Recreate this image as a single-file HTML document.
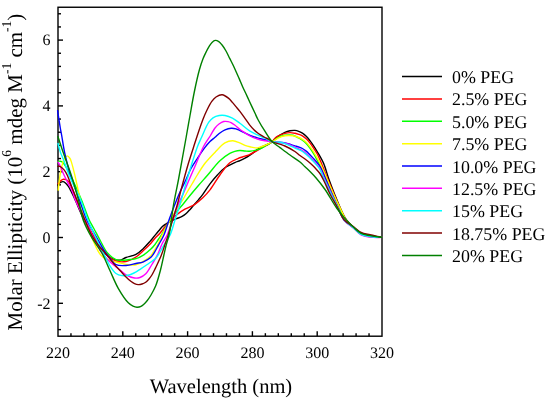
<!DOCTYPE html>
<html><head><meta charset="utf-8"><style>
html,body{margin:0;padding:0;background:#fff;}
svg{display:block;will-change:transform;}
text{font-family:"Liberation Serif",serif;fill:#000;text-rendering:geometricPrecision;}
</style></head><body>
<svg width="550" height="403" viewBox="0 0 550 403">
<rect width="550" height="403" fill="#fff"/>
<g stroke="#000" stroke-width="1.4">
<line x1="70.96" y1="336.20" x2="70.96" y2="333.20"/>
<line x1="83.92" y1="336.20" x2="83.92" y2="333.20"/>
<line x1="96.88" y1="336.20" x2="96.88" y2="333.20"/>
<line x1="109.84" y1="336.20" x2="109.84" y2="333.20"/>
<line x1="122.80" y1="336.20" x2="122.80" y2="331.20"/>
<line x1="135.76" y1="336.20" x2="135.76" y2="333.20"/>
<line x1="148.72" y1="336.20" x2="148.72" y2="333.20"/>
<line x1="161.68" y1="336.20" x2="161.68" y2="333.20"/>
<line x1="174.64" y1="336.20" x2="174.64" y2="333.20"/>
<line x1="187.60" y1="336.20" x2="187.60" y2="331.20"/>
<line x1="200.56" y1="336.20" x2="200.56" y2="333.20"/>
<line x1="213.52" y1="336.20" x2="213.52" y2="333.20"/>
<line x1="226.48" y1="336.20" x2="226.48" y2="333.20"/>
<line x1="239.44" y1="336.20" x2="239.44" y2="333.20"/>
<line x1="252.40" y1="336.20" x2="252.40" y2="331.20"/>
<line x1="265.36" y1="336.20" x2="265.36" y2="333.20"/>
<line x1="278.32" y1="336.20" x2="278.32" y2="333.20"/>
<line x1="291.28" y1="336.20" x2="291.28" y2="333.20"/>
<line x1="304.24" y1="336.20" x2="304.24" y2="333.20"/>
<line x1="317.20" y1="336.20" x2="317.20" y2="331.20"/>
<line x1="330.16" y1="336.20" x2="330.16" y2="333.20"/>
<line x1="343.12" y1="336.20" x2="343.12" y2="333.20"/>
<line x1="356.08" y1="336.20" x2="356.08" y2="333.20"/>
<line x1="369.04" y1="336.20" x2="369.04" y2="333.20"/>
<line x1="58.00" y1="329.62" x2="61.00" y2="329.62"/>
<line x1="58.00" y1="316.46" x2="61.00" y2="316.46"/>
<line x1="58.00" y1="303.30" x2="63.00" y2="303.30"/>
<line x1="58.00" y1="290.14" x2="61.00" y2="290.14"/>
<line x1="58.00" y1="276.98" x2="61.00" y2="276.98"/>
<line x1="58.00" y1="263.82" x2="61.00" y2="263.82"/>
<line x1="58.00" y1="250.66" x2="61.00" y2="250.66"/>
<line x1="58.00" y1="237.50" x2="63.00" y2="237.50"/>
<line x1="58.00" y1="224.34" x2="61.00" y2="224.34"/>
<line x1="58.00" y1="211.18" x2="61.00" y2="211.18"/>
<line x1="58.00" y1="198.02" x2="61.00" y2="198.02"/>
<line x1="58.00" y1="184.86" x2="61.00" y2="184.86"/>
<line x1="58.00" y1="171.70" x2="63.00" y2="171.70"/>
<line x1="58.00" y1="158.54" x2="61.00" y2="158.54"/>
<line x1="58.00" y1="145.38" x2="61.00" y2="145.38"/>
<line x1="58.00" y1="132.22" x2="61.00" y2="132.22"/>
<line x1="58.00" y1="119.06" x2="61.00" y2="119.06"/>
<line x1="58.00" y1="105.90" x2="63.00" y2="105.90"/>
<line x1="58.00" y1="92.74" x2="61.00" y2="92.74"/>
<line x1="58.00" y1="79.58" x2="61.00" y2="79.58"/>
<line x1="58.00" y1="66.42" x2="61.00" y2="66.42"/>
<line x1="58.00" y1="53.26" x2="61.00" y2="53.26"/>
<line x1="58.00" y1="40.10" x2="63.00" y2="40.10"/>
<line x1="58.00" y1="26.94" x2="61.00" y2="26.94"/>
<line x1="58.00" y1="13.78" x2="61.00" y2="13.78"/>
</g>
<rect x="58.00" y="7.25" width="324.00" height="328.95" fill="none" stroke="#000" stroke-width="1.4"/>
<g fill="none" stroke-width="1.4" stroke-linejoin="round" stroke-linecap="round">
<path d="M58.00,184.90 C58.00,184.90 59.57,182.95 60.50,182.40 C61.33,181.91 62.32,181.47 63.20,181.60 C64.16,181.74 65.16,182.64 66.00,183.40 C66.90,184.22 67.64,185.26 68.40,186.40 C69.28,187.72 70.13,189.42 70.90,190.90 C71.62,192.29 72.22,193.56 72.90,195.00 C73.65,196.58 74.20,197.77 75.20,200.00 C77.20,204.44 81.12,214.10 84.00,220.00 C86.37,224.85 88.52,228.70 91.00,233.00 C93.52,237.37 96.06,242.07 99.00,246.00 C101.76,249.69 104.85,253.62 108.00,256.00 C110.57,257.93 113.74,259.29 116.00,259.90 C117.52,260.31 118.57,260.45 120.00,260.20 C121.84,259.88 123.72,258.36 126.00,257.50 C128.88,256.41 133.05,255.98 136.00,254.40 C138.81,252.90 141.07,250.56 143.40,248.40 C145.74,246.23 148.25,243.37 150.00,241.40 C151.22,240.02 151.99,239.03 153.00,237.80 C154.05,236.53 155.14,235.18 156.20,233.90 C157.24,232.65 158.26,231.42 159.30,230.20 C160.33,228.99 161.31,227.63 162.40,226.60 C163.39,225.66 164.51,224.90 165.50,224.20 C166.36,223.59 167.13,223.13 168.00,222.60 C168.93,222.03 169.74,221.46 170.90,220.90 C172.50,220.13 174.89,219.37 176.80,218.60 C178.62,217.87 180.49,217.29 182.10,216.40 C183.60,215.57 184.97,214.55 186.20,213.50 C187.36,212.51 188.28,211.40 189.30,210.30 C190.35,209.17 191.37,207.98 192.40,206.80 C193.44,205.61 194.47,204.40 195.50,203.20 C196.53,202.00 197.50,200.92 198.60,199.60 C199.91,198.03 201.26,196.47 202.80,194.40 C204.93,191.54 207.50,187.20 210.00,183.90 C212.38,180.75 214.85,177.74 217.40,175.00 C219.82,172.40 222.07,169.84 224.90,167.80 C227.84,165.68 231.99,163.87 234.80,162.60 C236.78,161.70 238.30,161.33 240.00,160.60 C241.70,159.87 243.36,159.09 245.00,158.20 C246.67,157.29 248.01,156.47 249.90,155.20 C252.68,153.34 256.29,150.09 259.90,147.90 C263.72,145.59 269.77,143.71 272.30,141.80 C273.67,140.77 273.72,139.89 275.00,138.80 C277.19,136.93 282.06,133.73 284.90,132.40 C286.81,131.50 288.30,131.13 290.00,130.80 C291.63,130.48 293.38,130.28 294.90,130.40 C296.26,130.50 297.47,130.85 298.70,131.30 C299.97,131.77 301.20,132.43 302.40,133.20 C303.70,134.04 305.00,135.03 306.20,136.20 C307.51,137.47 308.70,139.05 309.90,140.60 C311.17,142.24 312.40,143.98 313.60,145.80 C314.87,147.71 315.94,149.45 317.30,151.80 C319.16,155.01 321.76,159.16 323.60,163.40 C325.66,168.13 326.97,173.87 328.80,179.00 C330.61,184.07 332.55,189.10 334.50,194.00 C336.39,198.76 338.24,203.55 340.30,208.00 C342.25,212.20 344.08,216.64 346.50,220.00 C348.60,222.92 351.13,225.06 353.60,227.30 C356.00,229.48 358.34,231.91 361.10,233.30 C363.79,234.65 367.08,235.00 369.90,235.60 C372.46,236.14 375.14,236.50 377.30,236.80 C378.98,237.03 381.80,237.30 381.80,237.30" stroke="#000000"/>
<path d="M58.00,183.80 C58.00,183.80 60.13,181.16 61.20,180.40 C62.00,179.82 62.79,179.40 63.60,179.30 C64.36,179.20 65.15,179.41 65.90,179.70 C66.72,180.01 67.62,180.52 68.30,181.20 C69.05,181.95 69.53,183.00 70.10,184.10 C70.78,185.41 71.38,187.11 72.00,188.60 C72.61,190.07 73.18,191.35 73.80,193.00 C74.57,195.05 75.07,197.10 76.20,200.00 C78.14,204.99 82.02,214.11 84.90,220.00 C87.28,224.86 89.50,228.70 92.00,233.00 C94.53,237.37 97.21,242.03 100.00,246.00 C102.56,249.64 105.10,253.42 108.00,256.00 C110.49,258.22 113.05,260.07 116.00,261.00 C119.04,261.95 122.74,262.12 126.00,261.50 C129.41,260.86 133.04,258.89 136.00,257.00 C138.80,255.21 140.96,252.85 143.40,250.60 C145.93,248.26 148.82,245.46 150.90,243.20 C152.52,241.44 153.55,239.90 155.00,238.30 C156.48,236.66 158.13,235.28 159.70,233.50 C161.47,231.49 163.25,228.96 165.00,226.80 C166.68,224.73 168.13,222.75 170.00,220.80 C172.03,218.68 174.36,216.51 176.80,214.60 C179.31,212.63 182.01,210.87 184.90,209.20 C187.98,207.42 191.77,206.24 194.80,204.30 C197.72,202.42 200.29,200.17 202.80,197.80 C205.36,195.38 207.53,193.06 210.00,189.90 C213.19,185.81 216.49,179.64 219.90,175.00 C223.10,170.65 226.38,165.60 229.80,162.80 C232.40,160.67 235.16,159.72 237.80,158.60 C240.22,157.57 242.84,156.96 245.00,156.20 C246.80,155.57 248.02,155.26 249.90,154.40 C252.69,153.13 256.40,150.87 259.90,148.90 C263.82,146.70 270.20,143.73 272.30,141.80 C273.23,140.95 273.21,140.28 273.90,139.50 C274.80,138.49 275.92,137.32 277.40,136.40 C279.35,135.20 282.61,134.03 284.90,133.40 C286.73,132.90 288.31,132.61 290.00,132.60 C291.67,132.59 293.47,132.99 295.00,133.30 C296.34,133.57 297.48,133.89 298.70,134.30 C299.95,134.72 301.21,135.11 302.40,135.80 C303.71,136.56 304.99,137.66 306.20,138.80 C307.50,140.01 308.71,141.41 309.90,142.90 C311.18,144.50 312.39,146.29 313.60,148.10 C314.86,149.99 316.11,151.75 317.30,154.00 C318.76,156.75 320.01,159.96 321.50,163.50 C323.36,167.92 325.44,173.47 327.50,178.50 C329.60,183.63 331.85,188.97 334.00,194.00 C336.05,198.79 337.99,203.54 340.10,208.00 C342.09,212.21 343.85,216.71 346.30,220.09 C348.44,223.05 351.09,225.19 353.60,227.48 C356.03,229.69 358.33,232.19 361.10,233.60 C363.78,234.96 367.08,235.33 369.90,235.90 C372.46,236.41 375.14,236.71 377.30,236.95 C378.98,237.13 381.80,237.30 381.80,237.30" stroke="#ff0000"/>
<path d="M58.00,161.50 C58.00,161.50 59.54,161.08 60.30,161.20 C61.14,161.33 61.89,161.57 62.80,162.40 C64.89,164.31 67.70,170.00 70.30,175.00 C73.85,181.84 78.21,192.09 81.50,200.00 C84.41,207.00 86.83,214.90 89.20,220.00 C90.75,223.33 92.01,225.06 93.60,228.00 C95.54,231.59 97.75,235.94 100.00,240.00 C102.37,244.27 104.54,249.61 107.50,253.00 C110.00,255.87 113.26,258.51 116.00,259.60 C118.05,260.42 119.86,260.19 122.00,260.20 C124.47,260.22 127.53,259.77 130.00,259.50 C132.15,259.26 133.95,259.32 136.00,258.70 C138.39,257.98 141.01,256.61 143.40,255.10 C145.99,253.47 148.84,251.05 150.90,249.10 C152.55,247.54 153.76,246.11 155.00,244.50 C156.22,242.91 157.16,241.20 158.30,239.50 C159.49,237.71 160.72,236.09 162.00,234.00 C163.59,231.40 165.22,227.97 167.00,225.00 C168.82,221.97 170.49,219.06 172.80,216.00 C175.49,212.42 179.42,208.56 182.40,205.00 C185.12,201.75 187.41,198.65 190.00,195.50 C192.61,192.32 195.19,189.27 198.00,186.00 C201.06,182.45 204.29,178.91 207.70,175.00 C211.55,170.58 215.84,164.60 219.90,160.80 C223.20,157.71 226.97,154.99 229.80,153.40 C231.67,152.35 233.12,151.89 234.80,151.40 C236.42,150.93 238.03,150.57 239.70,150.50 C241.43,150.42 243.27,150.88 245.00,151.00 C246.66,151.11 247.99,151.38 249.90,151.20 C252.66,150.94 257.04,150.00 259.90,148.90 C262.26,147.99 263.96,146.67 266.00,145.50 C268.09,144.30 270.29,143.14 272.30,141.80 C274.29,140.47 275.91,138.58 278.00,137.50 C280.11,136.41 282.48,135.68 284.90,135.30 C287.44,134.91 290.50,134.77 292.90,135.30 C295.05,135.78 297.00,137.10 298.70,138.00 C300.09,138.74 301.19,139.34 302.40,140.20 C303.70,141.12 305.00,142.17 306.20,143.40 C307.51,144.74 308.70,146.36 309.90,148.00 C311.18,149.75 312.28,151.39 313.60,153.60 C315.40,156.60 317.53,160.65 319.50,164.50 C321.66,168.74 323.84,173.29 326.00,178.00 C328.34,183.09 330.66,188.86 333.00,194.00 C335.20,198.84 337.40,203.52 339.60,208.00 C341.67,212.21 343.28,216.77 345.80,220.15 C348.04,223.16 350.98,225.27 353.60,227.60 C356.09,229.81 358.33,232.38 361.10,233.80 C363.78,235.17 367.08,235.55 369.90,236.10 C372.46,236.60 375.14,236.85 377.30,237.05 C378.98,237.20 381.80,237.30 381.80,237.30" stroke="#00ff00"/>
<path d="M58.20,190.10 C58.20,190.10 59.50,178.21 60.30,173.60 C60.88,170.22 61.47,167.56 62.20,164.90 C62.83,162.59 63.28,160.07 64.30,158.50 C65.08,157.31 66.25,155.89 67.20,155.90 C68.15,155.91 69.29,157.45 70.00,158.50 C70.74,159.60 70.96,160.73 71.50,162.40 C72.42,165.25 73.46,169.49 74.60,174.20 C76.27,181.13 78.49,191.95 80.30,200.00 C81.90,207.09 83.14,214.23 84.90,220.00 C86.29,224.56 87.86,227.95 89.50,232.00 C91.21,236.21 93.49,241.49 95.00,244.80 C95.97,246.93 96.53,248.29 97.50,250.00 C98.52,251.79 99.58,253.77 101.00,255.30 C102.42,256.83 104.13,258.21 106.00,259.20 C107.92,260.22 110.32,260.74 112.40,261.30 C114.31,261.82 115.97,262.04 118.00,262.50 C120.43,263.05 123.16,264.01 126.00,264.40 C129.13,264.83 132.98,265.40 136.00,264.80 C138.72,264.26 141.00,262.83 143.40,261.40 C145.97,259.87 148.97,257.89 150.90,255.80 C152.56,254.00 153.37,251.88 154.60,249.90 C155.84,247.91 157.14,246.14 158.30,243.90 C159.66,241.27 160.81,237.71 162.10,235.00 C163.22,232.64 164.27,230.77 165.50,228.50 C166.88,225.96 168.54,223.08 170.00,220.50 C171.37,218.09 172.65,215.78 174.00,213.50 C175.32,211.28 176.61,209.15 178.00,207.00 C179.41,204.82 180.97,202.81 182.40,200.50 C183.94,198.00 185.33,195.20 186.90,192.50 C188.53,189.70 190.29,186.88 192.00,184.00 C193.76,181.05 195.32,178.17 197.30,175.00 C199.59,171.33 202.11,167.02 205.00,163.30 C207.96,159.48 211.53,155.85 214.90,152.40 C218.16,149.06 221.52,144.79 224.90,142.90 C227.50,141.44 230.26,140.75 232.80,140.80 C235.18,140.84 237.58,142.08 239.70,142.90 C241.61,143.64 243.23,144.74 245.00,145.40 C246.66,146.02 248.16,146.41 250.00,146.80 C252.21,147.27 254.95,148.13 257.40,147.90 C259.92,147.66 262.44,146.31 264.90,145.30 C267.40,144.28 270.03,143.05 272.30,141.80 C274.36,140.67 275.95,139.19 278.00,138.20 C280.14,137.17 282.48,136.21 284.90,135.80 C287.43,135.37 290.47,135.45 292.90,135.80 C295.01,136.10 297.01,136.83 298.70,137.50 C300.10,138.06 301.19,138.64 302.40,139.40 C303.70,140.22 305.00,141.17 306.20,142.30 C307.51,143.54 308.70,145.07 309.90,146.60 C311.17,148.22 312.26,149.69 313.60,151.80 C315.52,154.82 317.92,159.07 320.00,163.20 C322.36,167.88 324.65,173.37 326.90,178.50 C329.15,183.64 331.25,188.99 333.50,194.00 C335.66,198.81 337.91,203.49 340.10,208.00 C342.17,212.26 343.85,216.88 346.30,220.36 C348.44,223.40 351.09,225.63 353.60,228.02 C356.03,230.33 358.31,233.03 361.10,234.50 C363.77,235.90 367.07,236.32 369.90,236.80 C372.45,237.23 375.14,237.34 377.30,237.40 C378.98,237.45 381.80,237.30 381.80,237.30" stroke="#ffff00"/>
<path d="M57.60,110.60 C57.60,110.60 58.53,116.91 59.00,119.90 C59.43,122.69 59.85,125.40 60.30,128.00 C60.72,130.42 61.09,132.12 61.60,135.00 C62.42,139.61 63.36,146.73 64.70,153.00 C66.19,159.99 67.97,167.49 70.30,175.00 C72.82,183.13 76.63,192.13 79.50,200.00 C82.06,207.03 84.26,214.64 86.70,220.00 C88.45,223.83 90.24,226.43 92.00,229.50 C93.67,232.42 95.17,234.86 97.00,238.00 C99.25,241.87 102.03,247.25 104.50,251.00 C106.52,254.06 108.47,256.61 110.50,259.00 C112.31,261.12 113.64,263.58 116.00,264.70 C118.66,265.96 122.68,265.70 126.00,265.50 C129.35,265.30 132.92,264.16 136.00,263.50 C138.66,262.93 141.00,262.77 143.40,261.80 C145.98,260.76 148.97,259.09 150.90,257.30 C152.55,255.77 153.42,253.98 154.60,252.10 C155.89,250.04 156.95,247.88 158.30,245.40 C159.98,242.32 162.22,238.86 163.90,235.00 C165.85,230.53 167.22,224.99 169.00,220.00 C170.79,214.99 172.71,209.80 174.60,205.00 C176.38,200.49 178.11,196.22 180.00,192.00 C181.84,187.89 183.94,183.97 185.80,180.00 C187.61,176.14 189.04,172.16 191.00,168.50 C192.92,164.93 195.13,161.73 197.40,158.30 C199.78,154.70 202.66,150.43 205.00,147.40 C206.78,145.08 208.26,143.24 210.00,141.50 C211.60,139.91 213.42,138.68 215.00,137.30 C216.47,136.02 217.63,134.70 219.20,133.50 C220.93,132.18 222.96,130.69 225.00,129.80 C226.97,128.94 229.25,128.32 231.20,128.20 C232.89,128.09 234.49,128.38 236.00,128.80 C237.45,129.20 238.44,129.84 240.10,130.60 C242.69,131.78 246.91,134.03 250.00,135.30 C252.62,136.38 254.91,137.16 257.40,137.90 C259.87,138.63 262.42,139.05 264.90,139.70 C267.38,140.35 269.97,141.39 272.30,141.80 C274.30,142.15 276.01,142.02 278.00,142.20 C280.19,142.40 282.40,142.50 284.90,143.00 C287.97,143.61 292.46,145.16 295.00,145.90 C296.54,146.35 297.48,146.57 298.70,147.00 C299.94,147.44 301.19,147.85 302.40,148.50 C303.70,149.20 304.99,150.09 306.20,151.10 C307.49,152.17 308.79,153.67 309.90,154.80 C310.82,155.74 311.37,156.25 312.40,157.40 C314.26,159.48 317.78,163.02 319.90,166.40 C322.16,170.00 323.51,174.21 325.40,178.50 C327.53,183.34 329.83,188.97 332.00,194.00 C334.06,198.79 335.99,203.52 338.10,208.00 C340.10,212.25 341.59,216.88 344.30,220.24 C346.84,223.38 350.68,225.36 353.60,227.78 C356.25,229.97 358.32,232.66 361.10,234.10 C363.78,235.49 367.08,235.88 369.90,236.40 C372.46,236.87 375.14,237.06 377.30,237.20 C378.98,237.31 381.80,237.30 381.80,237.30" stroke="#0000ff"/>
<path d="M58.00,162.10 C58.00,162.10 59.74,164.92 60.50,166.50 C61.32,168.21 61.94,170.22 62.70,172.00 C63.44,173.72 64.21,175.35 65.00,177.00 C65.78,178.65 66.48,180.10 67.40,181.90 C68.55,184.14 70.35,187.11 71.40,189.40 C72.25,191.24 72.74,192.76 73.40,194.50 C74.08,196.29 74.41,197.63 75.40,200.00 C77.33,204.62 81.97,213.81 84.90,220.00 C87.44,225.36 89.50,230.03 92.00,235.00 C94.53,240.03 97.12,245.62 100.00,250.00 C102.50,253.80 105.01,256.96 108.00,260.00 C111.01,263.06 114.85,265.71 118.00,268.30 C120.81,270.61 123.15,273.16 126.00,274.80 C128.67,276.33 131.94,277.65 134.50,278.00 C136.50,278.27 138.21,278.11 140.00,277.50 C141.99,276.82 144.03,275.54 145.80,273.80 C147.99,271.64 149.99,267.55 151.60,265.00 C152.81,263.08 153.68,261.67 154.70,259.90 C155.78,258.02 156.83,256.26 157.90,254.00 C159.26,251.14 160.43,247.19 162.00,244.00 C163.54,240.87 165.60,238.47 167.20,235.00 C169.18,230.71 170.70,224.99 172.50,220.00 C174.30,214.99 176.02,209.78 178.00,205.00 C179.87,200.47 182.13,196.26 184.00,192.00 C185.78,187.94 187.17,184.28 189.00,180.00 C191.12,175.04 193.61,169.49 196.00,164.00 C198.53,158.18 201.09,151.11 203.80,146.00 C205.96,141.93 208.54,138.70 210.50,135.50 C212.12,132.86 213.24,130.22 214.80,128.20 C216.11,126.51 217.47,125.13 219.00,124.00 C220.45,122.93 222.12,121.87 223.70,121.50 C225.12,121.16 226.71,121.38 228.00,121.60 C229.11,121.79 229.98,122.11 231.00,122.60 C232.20,123.18 233.39,124.03 234.70,125.00 C236.35,126.22 238.22,128.16 240.00,129.50 C241.65,130.74 243.33,131.71 245.00,132.80 C246.66,133.88 248.12,135.03 250.00,136.00 C252.18,137.13 254.89,138.20 257.40,139.00 C259.86,139.79 262.40,140.33 264.90,140.80 C267.36,141.26 269.51,141.44 272.30,141.80 C275.94,142.26 280.99,142.33 284.90,143.30 C288.51,144.20 291.91,145.90 295.00,147.20 C297.68,148.33 300.40,149.37 302.40,150.60 C303.94,151.55 304.81,152.39 306.20,153.60 C308.05,155.22 310.29,157.34 312.40,159.60 C314.85,162.22 317.88,165.25 319.90,168.50 C321.91,171.72 322.78,175.20 324.50,179.00 C326.57,183.57 329.20,189.09 331.50,194.00 C333.73,198.75 335.91,203.48 338.10,208.00 C340.18,212.28 341.58,217.01 344.30,220.45 C346.83,223.66 350.68,225.70 353.60,228.20 C356.25,230.47 358.31,233.31 361.10,234.80 C363.77,236.22 367.07,236.65 369.90,237.10 C372.45,237.51 375.14,237.54 377.30,237.55 C378.99,237.55 381.80,237.30 381.80,237.30" stroke="#ff00ff"/>
<path d="M58.00,143.50 C58.00,143.50 59.66,150.00 60.70,153.00 C61.68,155.81 62.83,157.95 64.00,161.00 C65.54,165.00 66.83,169.72 69.00,175.00 C71.96,182.19 77.42,192.06 80.70,200.00 C83.58,206.97 85.39,213.75 87.90,220.00 C90.18,225.67 92.50,230.70 95.00,236.00 C97.53,241.36 100.42,246.84 103.00,252.00 C105.41,256.82 107.54,262.16 110.00,266.00 C111.92,269.01 113.75,271.90 116.00,273.50 C117.83,274.80 119.97,275.31 122.00,275.60 C123.97,275.88 126.03,275.72 128.00,275.30 C130.03,274.87 131.98,274.00 134.00,273.00 C136.25,271.89 138.58,270.23 140.80,268.80 C142.98,267.40 144.92,266.12 147.20,264.50 C149.92,262.57 153.77,260.23 156.00,257.90 C157.79,256.02 158.67,254.15 160.00,252.00 C161.51,249.56 162.89,246.73 164.50,244.00 C166.23,241.07 168.47,238.49 170.10,235.00 C172.09,230.74 173.38,225.00 175.00,220.00 C176.62,215.00 178.37,209.73 179.80,205.00 C181.07,200.79 182.04,197.08 183.20,193.00 C184.41,188.75 185.93,183.31 186.90,180.00 C187.50,177.94 187.76,177.11 188.40,175.00 C189.51,171.34 191.43,164.90 193.00,160.00 C194.53,155.24 196.11,150.09 197.70,146.00 C198.98,142.69 200.07,140.51 201.60,137.20 C203.61,132.85 206.45,125.60 208.80,122.20 C210.22,120.15 211.32,118.91 213.00,117.80 C214.76,116.64 217.13,115.87 219.20,115.50 C221.13,115.15 222.98,115.16 225.00,115.50 C227.35,115.90 230.01,116.88 232.40,118.10 C234.98,119.42 237.24,121.34 239.90,123.30 C243.05,125.62 246.80,129.18 250.00,131.20 C252.57,132.83 254.91,133.73 257.40,134.90 C259.88,136.06 262.42,137.05 264.90,138.20 C267.39,139.35 269.76,141.12 272.30,141.80 C274.73,142.45 277.56,141.94 279.80,142.30 C281.68,142.60 282.95,142.92 284.90,143.60 C287.73,144.58 291.90,146.70 295.00,148.10 C297.66,149.30 300.43,150.30 302.40,151.50 C303.88,152.40 304.66,153.15 306.00,154.30 C307.86,155.91 310.25,158.10 312.40,160.40 C314.88,163.05 317.94,166.20 319.90,169.40 C321.75,172.42 322.42,175.46 324.00,179.00 C325.99,183.46 328.62,189.11 331.00,194.00 C333.32,198.77 335.82,203.48 338.10,208.00 C340.24,212.23 341.59,216.92 344.30,220.30 C346.83,223.46 350.68,225.46 353.60,227.90 C356.25,230.11 358.32,232.85 361.10,234.30 C363.77,235.69 367.07,236.10 369.90,236.60 C372.45,237.05 375.14,237.20 377.30,237.30 C378.98,237.38 381.80,237.30 381.80,237.30" stroke="#00ffff"/>
<path d="M58.00,166.40 C58.00,166.40 59.05,166.17 59.70,166.40 C60.89,166.81 62.86,168.50 64.10,169.90 C65.38,171.35 66.15,172.87 67.20,175.00 C68.77,178.20 70.37,183.34 72.00,187.50 C73.64,191.67 75.15,195.34 77.00,200.00 C79.34,205.88 82.27,213.73 84.90,220.00 C87.27,225.66 89.40,231.40 92.00,236.00 C94.17,239.84 96.58,242.91 99.00,246.00 C101.26,248.88 103.49,251.02 106.00,254.00 C109.07,257.64 113.27,263.21 116.00,266.30 C117.75,268.28 119.01,269.40 120.50,271.00 C122.01,272.63 123.36,274.35 125.00,276.00 C126.77,277.78 129.03,279.96 130.80,281.30 C132.12,282.30 133.22,283.05 134.50,283.60 C135.70,284.12 136.95,284.53 138.20,284.60 C139.45,284.67 140.77,284.39 142.00,284.00 C143.27,283.60 144.56,283.00 145.70,282.20 C146.90,281.36 147.98,280.17 149.00,279.00 C150.06,277.78 151.02,276.40 151.90,275.00 C152.79,273.57 153.56,271.96 154.30,270.50 C154.99,269.14 155.42,268.18 156.20,266.50 C157.52,263.66 159.92,258.73 161.40,255.00 C162.75,251.58 163.65,248.33 164.80,245.00 C165.95,241.66 167.13,238.69 168.30,235.00 C169.72,230.52 171.12,224.99 172.60,220.00 C174.09,214.99 175.85,209.84 177.20,205.00 C178.45,200.53 179.40,196.24 180.50,192.00 C181.56,187.92 182.51,184.34 183.70,180.00 C185.12,174.82 186.83,168.57 188.50,163.00 C190.13,157.57 191.91,152.24 193.60,147.00 C195.24,141.92 196.88,136.76 198.50,132.00 C199.98,127.63 201.39,123.36 202.90,119.50 C204.23,116.09 205.50,113.05 207.00,110.00 C208.47,107.02 210.10,103.71 211.80,101.40 C213.14,99.59 214.32,98.11 216.00,97.00 C217.76,95.84 220.15,94.53 222.20,94.70 C224.38,94.88 226.92,96.99 228.70,98.40 C230.22,99.60 231.17,101.01 232.40,102.40 C233.67,103.84 234.95,105.40 236.20,106.90 C237.45,108.40 238.69,109.84 239.90,111.40 C241.15,113.01 242.37,114.71 243.60,116.40 C244.84,118.11 246.16,120.00 247.30,121.60 C248.27,122.97 248.99,124.14 250.00,125.40 C251.10,126.77 252.43,128.24 253.70,129.50 C254.90,130.69 256.12,131.82 257.40,132.80 C258.62,133.74 259.93,134.51 261.20,135.30 C262.43,136.07 263.65,136.84 264.90,137.50 C266.12,138.14 267.40,138.51 268.60,139.20 C269.87,139.93 270.78,141.05 272.30,141.80 C274.30,142.80 277.55,143.44 279.80,144.20 C281.67,144.83 282.96,145.13 284.90,146.00 C287.72,147.26 292.18,149.70 294.90,151.50 C296.95,152.85 298.29,154.23 300.00,155.50 C301.66,156.73 303.35,157.77 305.00,159.00 C306.69,160.26 308.37,161.57 310.00,163.00 C311.70,164.49 313.38,166.09 315.00,167.80 C316.69,169.58 318.44,171.38 319.90,173.50 C321.46,175.76 322.56,178.13 324.00,181.00 C325.87,184.71 327.78,189.63 330.00,194.00 C332.35,198.62 335.37,203.52 337.80,208.00 C340.01,212.08 341.26,216.58 344.00,219.76 C346.60,222.77 350.60,224.58 353.60,226.82 C356.26,228.81 358.36,231.17 361.10,232.50 C363.80,233.81 367.09,234.13 369.90,234.80 C372.47,235.41 375.14,235.95 377.30,236.40 C378.98,236.75 381.80,237.30 381.80,237.30" stroke="#800000"/>
<path d="M58.00,136.70 C58.00,136.70 61.40,147.17 63.40,153.00 C65.73,159.80 68.74,167.40 71.20,175.00 C73.79,183.03 76.42,192.10 78.50,200.00 C80.35,207.01 80.93,213.63 83.20,220.00 C85.44,226.29 88.78,232.37 92.00,238.00 C95.05,243.33 98.97,247.73 101.90,253.00 C104.89,258.38 107.02,264.21 109.70,270.00 C112.51,276.07 115.14,282.94 118.40,288.60 C121.39,293.79 125.38,299.82 128.30,302.80 C129.99,304.52 131.43,305.45 133.00,306.20 C134.33,306.84 135.66,307.27 137.00,307.30 C138.33,307.33 139.64,307.11 141.00,306.40 C142.91,305.40 145.21,302.95 146.90,301.00 C148.51,299.14 149.66,297.24 151.00,295.00 C152.57,292.37 154.19,289.58 155.60,286.10 C157.43,281.59 159.10,275.30 160.50,270.00 C161.84,264.94 162.87,259.49 163.90,255.00 C164.74,251.33 165.35,248.32 166.20,245.00 C167.05,241.66 168.09,239.26 169.00,235.00 C170.56,227.71 171.85,214.53 173.50,205.00 C175.01,196.27 176.61,189.46 178.40,180.00 C180.74,167.61 184.07,148.88 186.20,137.00 C187.70,128.61 188.68,122.82 190.00,115.50 C191.38,107.84 192.71,99.70 194.30,92.00 C195.85,84.48 197.71,75.88 199.40,69.80 C200.60,65.46 201.75,62.00 203.00,58.80 C204.00,56.23 205.05,54.12 206.10,52.00 C207.05,50.08 207.97,48.26 209.00,46.60 C209.95,45.08 210.85,43.46 212.00,42.40 C212.99,41.48 214.15,40.52 215.30,40.40 C216.42,40.28 217.74,40.93 218.80,41.60 C219.96,42.34 220.86,43.50 221.90,44.80 C223.25,46.48 224.73,48.80 226.00,51.00 C227.34,53.32 228.47,55.93 229.70,58.40 C230.93,60.87 232.19,63.26 233.40,65.80 C234.66,68.45 236.00,71.55 237.10,74.00 C237.99,75.99 238.67,77.49 239.50,79.40 C240.43,81.53 241.35,83.84 242.40,86.20 C243.56,88.79 244.98,91.68 246.20,94.30 C247.34,96.77 248.26,98.83 249.50,101.50 C251.05,104.85 253.23,109.46 254.80,112.80 C256.06,115.47 256.80,117.37 258.20,120.00 C259.99,123.36 262.54,127.56 264.90,131.20 C267.24,134.82 269.56,138.96 272.30,141.80 C274.66,144.25 277.26,145.56 280.00,147.60 C283.11,149.92 286.65,152.59 290.00,155.00 C293.32,157.39 297.31,159.79 300.00,162.00 C302.03,163.67 303.29,165.17 305.00,166.80 C306.79,168.50 308.69,170.17 310.50,172.00 C312.39,173.90 314.06,175.60 316.10,178.00 C318.88,181.26 322.27,185.51 325.40,190.00 C329.10,195.31 332.85,202.72 336.60,208.00 C339.79,212.49 343.12,216.47 346.20,219.90 C348.75,222.74 351.06,225.03 353.60,227.30 C356.03,229.48 358.34,231.91 361.10,233.30 C363.79,234.65 367.08,235.00 369.90,235.60 C372.46,236.14 375.14,236.50 377.30,236.80 C378.98,237.03 381.80,237.30 381.80,237.30" stroke="#008000"/>
</g>
<g font-size="16">
<text x="58.00" y="358" text-anchor="middle">220</text>
<text x="122.80" y="358" text-anchor="middle">240</text>
<text x="187.60" y="358" text-anchor="middle">260</text>
<text x="252.40" y="358" text-anchor="middle">280</text>
<text x="317.20" y="358" text-anchor="middle">300</text>
<text x="382.00" y="358" text-anchor="middle">320</text>
<text x="50.5" y="45.30" text-anchor="end">6</text>
<text x="50.5" y="111.10" text-anchor="end">4</text>
<text x="50.5" y="176.90" text-anchor="end">2</text>
<text x="50.5" y="242.70" text-anchor="end">0</text>
<text x="50.5" y="308.50" text-anchor="end">-2</text>
</g>
<g font-size="17.9">
<line x1="402" y1="76.60" x2="442" y2="76.60" stroke="#000000" stroke-width="1.5"/>
<text x="452" y="82.70">0% PEG</text>
<line x1="402" y1="98.95" x2="442" y2="98.95" stroke="#ff0000" stroke-width="1.5"/>
<text x="452" y="105.16">2.5% PEG</text>
<line x1="402" y1="121.30" x2="442" y2="121.30" stroke="#00ff00" stroke-width="1.5"/>
<text x="452" y="127.62">5.0% PEG</text>
<line x1="402" y1="143.65" x2="442" y2="143.65" stroke="#ffff00" stroke-width="1.5"/>
<text x="452" y="150.08">7.5% PEG</text>
<line x1="402" y1="166.00" x2="442" y2="166.00" stroke="#0000ff" stroke-width="1.5"/>
<text x="452" y="172.54">10.0% PEG</text>
<line x1="402" y1="188.35" x2="442" y2="188.35" stroke="#ff00ff" stroke-width="1.5"/>
<text x="452" y="195.00">12.5% PEG</text>
<line x1="402" y1="210.70" x2="442" y2="210.70" stroke="#00ffff" stroke-width="1.5"/>
<text x="452" y="217.46">15% PEG</text>
<line x1="402" y1="233.05" x2="442" y2="233.05" stroke="#800000" stroke-width="1.5"/>
<text x="452" y="239.92">18.75% PEG</text>
<line x1="402" y1="255.40" x2="442" y2="255.40" stroke="#008000" stroke-width="1.5"/>
<text x="452" y="262.38">20% PEG</text>
</g>
<text x="221" y="392.8" font-size="20.5" text-anchor="middle">Wavelength (nm)</text>
<text transform="translate(22.2,330.5) rotate(-90)" font-size="21">Molar Ellipticity (10<tspan dy="-11.5" font-size="13.5">6</tspan><tspan dy="11.5"> mdeg M</tspan><tspan dy="-11.5" font-size="13.5">-1</tspan><tspan dy="11.5"> cm</tspan><tspan dy="-11.5" font-size="13.5">-1</tspan><tspan dy="11.5">)</tspan></text>
</svg>
</body></html>
